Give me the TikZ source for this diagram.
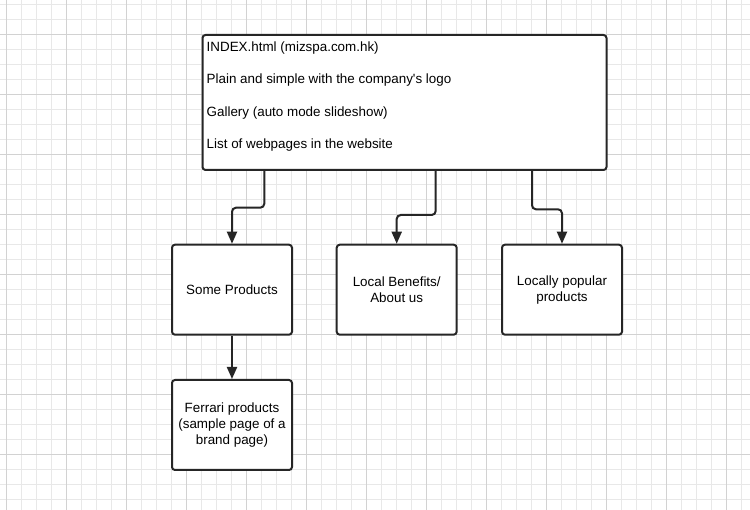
\documentclass[tikz,border=0pt]{standalone}
\usepackage{fontspec}
\setmainfont{Liberation Sans}
\usetikzlibrary{arrows.meta}

\definecolor{gridminor}{HTML}{E8E8E8}
\definecolor{gridmajor}{HTML}{D2D2D2}
\definecolor{boxline}{HTML}{262626}

\begin{document}
\begin{tikzpicture}[x=1pt, y=-1pt]
    % Define styles
    \tikzstyle{minor} = [gridminor, line width=0.8pt]
    \tikzstyle{major} = [gridmajor, line width=0.8pt]
    \tikzstyle{page} = [draw=boxline, line width=2pt, rounded corners=3pt, fill=white,
        minimum width=120pt, minimum height=90pt, inner sep=0pt, align=center,
        font=\fontsize{13.4}{16}\selectfont]
    \tikzstyle{link} = [draw=boxline, line width=2pt, rounded corners=4pt,
        -{Triangle[width=10pt, length=12pt]}]

    \useasboundingbox (0,0) rectangle (750,510);
    \fill[white] (0,0) rectangle (750,510);

    % Background grid
    \foreach \i in {0,...,49} {
        \draw[minor] ({6.7+15*\i},0) -- ++(0,510);
    }
    \foreach \i in {0,...,33} {
        \draw[minor] (0,{4.3+15*\i}) -- ++(750,0);
    }
    \foreach \i in {0,...,12} {
        \draw[major] ({6.7+60*\i},0) -- ++(0,510);
    }
    \foreach \i in {0,...,7} {
        \draw[major] (0,{34.3+60*\i}) -- ++(750,0);
    }

    % Home page
    \node[page, minimum width=404pt, minimum height=135pt] (index) at (404.5,102.5) {};
    \node[anchor=north west, inner sep=0pt, align=left, font=\fontsize{13.4}{16}\selectfont]
        (indextext) at ([xshift=5pt, yshift=-7.5pt]index.north west)
        {INDEX.html (mizspa.com.hk)\\[16.3pt]
         Plain and simple with the company\textquotesingle s logo\\[16.3pt]
         Gallery (auto mode slideshow)\\[16.3pt]
         List of webpages in the website};

    % Sub pages
    \node[page] (products) at (232,289.7) {Some Products};
    \node[page] (benefits) at (396.7,289.7) {Local Benefits/\\About us};
    \node[page] (popular) at (562,289.7) {Locally popular\\products};
    \node[page] (ferrari) at (232,425) {Ferrari products\\(sample page of a\\brand page)};

    % Connectors
    \draw[link] ([xshift=-140.2pt]index.south) -- ++(0,36.7) -| (products.north);
    \draw[link] ([xshift=31.2pt]index.south) -- ++(0,44) -| (benefits.north);
    \draw[link] ([xshift=127.5pt]index.south) -- ++(0,38.3) -| (popular.north);
    \draw[link] (products) -- (ferrari);
\end{tikzpicture}
\end{document}
